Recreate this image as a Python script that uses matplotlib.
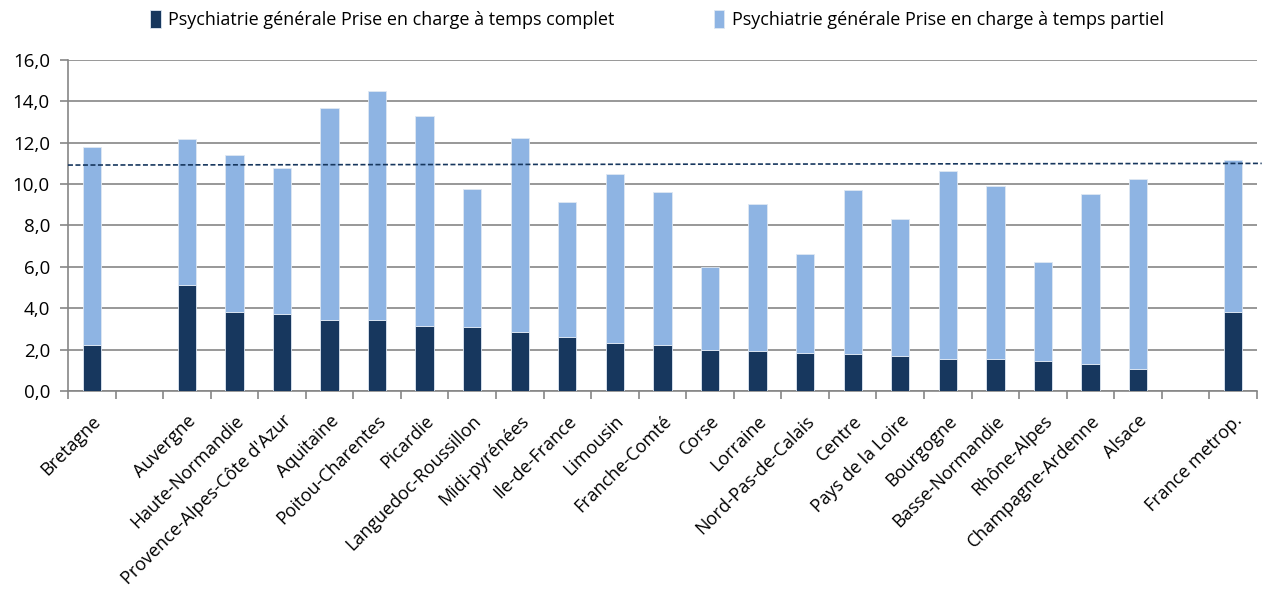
import numpy as np
import matplotlib.pyplot as plt
from matplotlib.ticker import FuncFormatter, FixedLocator

regions = ['Bretagne', '', 'Auvergne', 'Haute-Normandie', "Provence-Alpes-Côte d'Azur",
           'Aquitaine', 'Poitou-Charentes', 'Picardie', 'Languedoc-Roussillon',
           'Midi-pyrénées', 'Ile-de-France', 'Limousin', 'Franche-Comté', 'Corse',
           'Lorraine', 'Nord-Pas-de-Calais', 'Centre', 'Pays de la Loire', 'Bourgogne',
           'Basse-Normandie', 'Rhône-Alpes', 'Champagne-Ardenne', 'Alsace', '',
           'France metrop.']
# temps complet
complet = [2.2, 0, 5.1, 3.8, 3.7, 3.45, 3.45, 3.16, 3.08, 2.85, 2.6, 2.3, 2.24, 2.0,
           1.93, 1.85, 1.77, 1.69, 1.55, 1.55, 1.45, 1.32, 1.06, 0, 3.83]
# total (complet + partiel)
total = [11.8, 0, 12.2, 11.4, 10.8, 13.7, 14.5, 13.3, 9.76, 12.23, 9.15, 10.5, 9.62,
         6.0, 9.02, 6.62, 9.7, 8.31, 10.62, 9.92, 6.23, 9.54, 10.25, 0, 11.15]
partiel = [t - c for t, c in zip(total, complet)]
ref_line = [10.92, 11.0]

dark = '#17375E'
light = '#8EB4E3'
grid_c = '#868686'

plt.rcParams['font.family'] = ['Open Sans', 'DejaVu Sans']

fig = plt.figure(figsize=(12.63, 5.89), dpi=100)
ax = fig.add_axes([0.0538, 0.3362, 0.9414, 0.562])

x = np.arange(len(regions))
w = 0.385
ax.bar(x, complet, width=w, color=dark, edgecolor='#dfe8f3', linewidth=0.6,
       label='Psychiatrie générale Prise en charge à temps complet', zorder=3)
ax.bar(x, partiel, bottom=complet, width=w, color=light, edgecolor='#dfe8f3',
       linewidth=0.6, label='Psychiatrie générale Prise en charge à temps partiel', zorder=3)

ax.plot([-0.5, len(regions) - 0.4], ref_line, linestyle=(0, (3, 1.5)), color=dark,
        linewidth=1.2, zorder=4, clip_on=False)

ax.set_xlim(-0.5, len(regions) - 0.5)
ax.set_ylim(0, 16)
ax.set_yticks(np.arange(0, 16.1, 2))
ax.yaxis.set_major_formatter(FuncFormatter(lambda v, p: f'{v:.1f}'.replace('.', ',')))
ax.yaxis.grid(True, color=grid_c, linewidth=1.2, zorder=0)
ax.set_axisbelow(True)

ax.set_xticks(x)
ax.set_xticklabels(regions, rotation=45, ha='right', rotation_mode='anchor', fontsize=13)
ax.xaxis.set_minor_locator(FixedLocator(np.arange(-0.5, len(regions), 1)))
ax.tick_params(axis='x', which='major', length=0, pad=15)
ax.tick_params(axis='x', which='minor', length=6, color=grid_c, width=1.2)
ax.tick_params(axis='y', length=6, color=grid_c, width=1.2, labelsize=13.5, pad=7)

for s in ['top', 'right']:
    ax.spines[s].set_visible(False)
for s in ['left', 'bottom']:
    ax.spines[s].set_color(grid_c)
    ax.spines[s].set_linewidth(1.2)

fig.legend(loc='upper center', bbox_to_anchor=(0.52, 1.01), ncol=2, frameon=False,
           fontsize=13, handlelength=0.6, handleheight=1.1, handletextpad=0.4,
           columnspacing=5.5)

fig.savefig('out.png', dpi=100)
